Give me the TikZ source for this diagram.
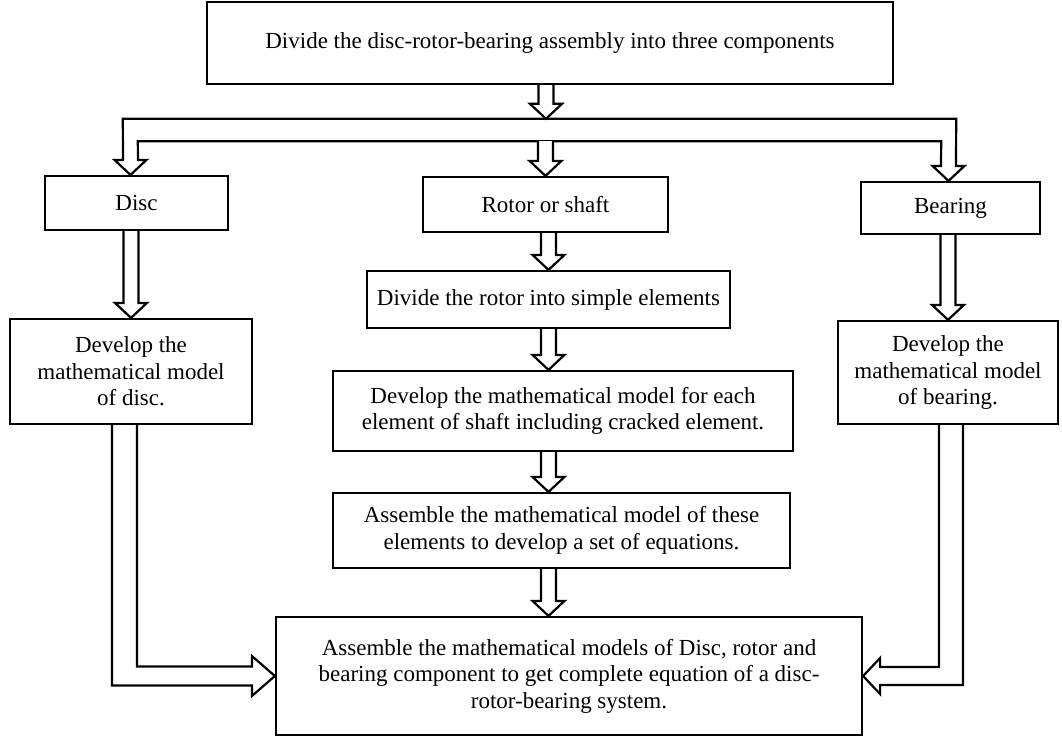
\documentclass[tikz,border=0pt]{standalone}
\usepackage{fontspec}
\setmainfont{Liberation Serif}
\usetikzlibrary{calc,positioning}

% hollow down arrow: from a source anchor (#1) to a tip point (#2)
\newcommand{\hollowdown}[2]{%
  \draw[blockarrow] ($(#1 -| #2)+(-7.5,0)$) -- ($(#2)+(-7.5,-15)$) -- ++(-8.5,0)
    -- (#2) -- ++(16,-15) -- ++(-8.5,0) -- ($(#1 -| #2)+(7.5,0)$);
}

\begin{document}
\begin{tikzpicture}[x=1pt, y=-1pt,
    box/.style={draw, line width=2.2pt, inner sep=0pt, align=center,
      font=\fontsize{23}{26.5}\selectfont},
    blockarrow/.style={draw, line width=2.2pt, fill=white, line join=miter}]
    \useasboundingbox (0,0) rectangle (1062,739);

    \node[box, minimum width=686, minimum height=82] (top) at (550,43)
        {Divide the disc-rotor-bearing assembly into three components};
    \node[box, minimum width=183, minimum height=54] (disc) at (136.5,203) {Disc};
    \node[box, minimum width=245, minimum height=55] (rotor) at (545.5,204.5) {Rotor or shaft};
    \node[box, minimum width=179, minimum height=52] (bearing) at (950.5,208) {Bearing};

    \node[box, minimum width=363, minimum height=57] (divide) at (548.5,299.5)
        {Divide the rotor into simple elements};
    \node[box, minimum width=460, minimum height=80] (elemodel) at (563,411)
        {Develop the mathematical model for each\\element of shaft including cracked element.};
    \node[box, minimum width=457, minimum height=75] (assemble) at (561.5,530.5)
        {Assemble the mathematical model of these\\elements to develop a set of equations.};
    \node[box, minimum width=586, minimum height=118] (system) at (569,676)
        {Assemble the mathematical models of Disc, rotor and\\bearing component to get complete equation of a disc-\\rotor-bearing system.};

    \node[box, minimum width=242, minimum height=105] (discmodel) at (131,371.5)
        {Develop the\\mathematical model\\of disc.};
    \node[box, minimum width=220, minimum height=103] (bearingmodel) at (948,372.5)
        {Develop the\\mathematical model\\of bearing.};

    % Branching bar with the two outer arrows
    \node[minimum width=833, minimum height=22, inner sep=0pt] (bar) at (539.5,130) {};
    \coordinate (ltip) at ($(disc.north)+(-6,0)$);
    \coordinate (rtip) at ($(bearing.north)+(-2,0)$);
    \draw[blockarrow] (bar.north west) -- (bar.north east) -- ($(rtip)+(7.5,-15)$) -- ++(8.5,0)
        -- (rtip) -- ++(-16,-15) -- ++(8.5,0) -- ($(bar.south east)+(-15,0)$)
        -- ($(bar.south west)+(15,0)$) -- ($(ltip)+(7.5,-15)$) -- ++(8.5,0)
        -- (ltip) -- ++(-16,-15) -- ++(8.5,0) -- cycle;

    \coordinate (barin) at ($(bar.north)+(6.5,0)$);
    \hollowdown{top.south}{barin}
    \hollowdown{bar.south}{rotor.north}
    \hollowdown{rotor.south}{divide.north}
    \hollowdown{divide.south}{elemodel.north -| divide.south}
    \hollowdown{elemodel.south}{assemble.north -| divide.south}
    \hollowdown{assemble.south}{system.north -| divide.south}
    \hollowdown{disc.south}{discmodel.north}
    \hollowdown{bearing.south}{bearingmodel.north}

    % L-shaped arrows into the last box
    \draw[blockarrow] ($(discmodel.south)+(-19,0)$) |- ($(system.west)+(-23,9.5)$) -- ++(0,10.5)
        -- (system.west) -- ++(-23,-20) -- ++(0,10.5) -| ($(discmodel.south)+(6,0)$);
    \draw[blockarrow] ($(bearingmodel.south)+(15,0)$) |- ($(system.east)+(17,9)$) -- ++(0,9)
        -- (system.east) -- ++(17,-18) -- ++(0,9) -| ($(bearingmodel.south)+(-9,0)$);
\end{tikzpicture}
\end{document}
